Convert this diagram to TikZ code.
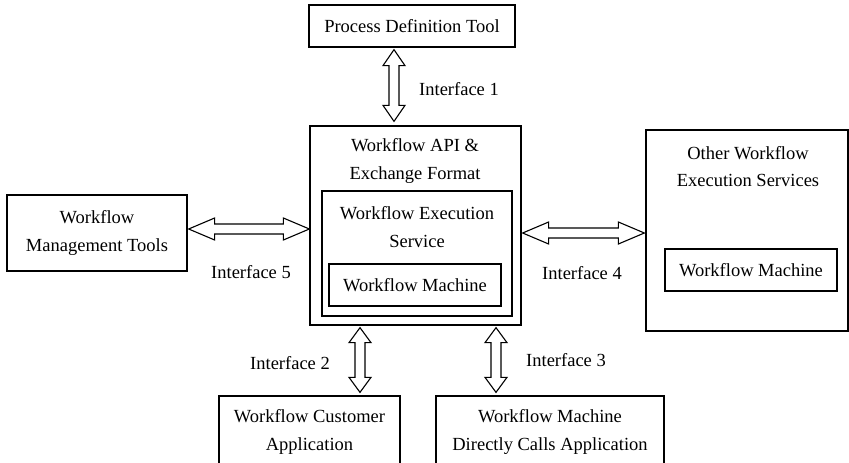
\documentclass[tikz,border=0pt]{standalone}
\usepackage{fontspec}
\setmainfont{Liberation Serif}
\usetikzlibrary{calc}

% hollow double-headed block arrow from #2 to #3, #1 = head length
\newcommand{\blockarrow}[3][16pt]{%
  \draw[arrowline] (#2)
    -- ($(#2)!#1!(#3)!11pt!90:(#3)$) -- ($(#2)!#1!(#3)!5pt!90:(#3)$)
    -- ($(#3)!#1!(#2)!5pt!-90:(#2)$) -- ($(#3)!#1!(#2)!11pt!-90:(#2)$)
    -- (#3)
    -- ($(#3)!#1!(#2)!11pt!90:(#2)$) -- ($(#3)!#1!(#2)!5pt!90:(#2)$)
    -- ($(#2)!#1!(#3)!5pt!-90:(#3)$) -- ($(#2)!#1!(#3)!11pt!-90:(#3)$)
    -- cycle;}

\tikzset{
  box/.style={draw, line width=1.3pt, inner sep=0pt, align=center},
  lbl/.style={align=center, inner sep=0pt},
  arrowline/.style={draw, line width=1.1pt, line join=miter, fill=white},
}

\begin{document}
\begin{tikzpicture}[x=1pt, y=-1pt, font=\fontsize{18.5}{27.5}\selectfont]
  \useasboundingbox (0,0) rectangle (849,463);
  % boxes
  \node[box, minimum width=206pt, minimum height=42pt] (pdt) at (412,26) {Process Definition Tool};
  \node[box, minimum width=211pt, minimum height=199pt] (api) at (415.5,225.5) {};
  \node[box, minimum width=190pt, minimum height=125pt] (wes) at (417,253.5) {};
  \node[box, minimum width=172pt, minimum height=42pt] (wmA) at (415,285) {Workflow Machine};
  \node[box, minimum width=180pt, minimum height=76pt] (wmt) at (97,233) {Workflow\\Management Tools};
  \node[box, minimum width=202pt, minimum height=201pt] (owes) at (747,230.5) {};
  \node[box, minimum width=172pt, minimum height=42pt] (wmB) at (751,270) {Workflow Machine};
  \node[box, minimum width=181pt, minimum height=72pt] (wca) at (309.5,432) {Workflow Customer\\Application};
  \node[box, minimum width=228pt, minimum height=72pt] (wmdca) at (550,432) {Workflow Machine\\Directly Calls Application};
  % titles at the top of the big boxes
  \node[lbl] (apiT) at (415,161) {Workflow API \&\\Exchange Format};
  \node[lbl] (wesT) at (417,227) {Workflow Execution\\Service};
  \node[lbl] (owesT) at (748,166.5) {Other Workflow\\Execution Services};
  % arrow ends
  \coordinate (i1a) at ([xshift=-18pt, yshift=-2pt] pdt.south);
  \coordinate (i1b) at (i1a |- api.north);
  \coordinate (i5a) at ([xshift=1pt, yshift=4pt] wmt.east);
  \coordinate (i5b) at (i5a -| api.west);
  \coordinate (i4a) at ([xshift=1pt, yshift=-7.5pt] api.east);
  \coordinate (i4b) at (i4a -| owes.west);
  \coordinate (i2a) at ([xshift=50.5pt, yshift=3pt] wca.north);
  \coordinate (i2b) at (i2a |- api.south);
  \coordinate (i3a) at ([xshift=-54pt, yshift=3pt] wmdca.north);
  \coordinate (i3b) at (i3a |- api.south);
  \blockarrow{i1a}{$(i1b)+(0,-4)$}
  \blockarrow[26pt]{i5a}{i5b}
  \blockarrow[26pt]{i4a}{$(i4b)+(-1,0)$}
  \blockarrow[15pt]{$(i2b)+(0,2)$}{i2a}
  \blockarrow[15pt]{$(i3b)+(0,2)$}{i3a}
  % interface labels
  \node[lbl] (if1) at (459,89) {Interface 1};
  \node[lbl] (if5) at (251,272) {Interface 5};
  \node[lbl] (if4) at (582,273) {Interface 4};
  \node[lbl] (if2) at (290,363) {Interface 2};
  \node[lbl] (if3) at (566,360) {Interface 3};
\end{tikzpicture}
\end{document}
